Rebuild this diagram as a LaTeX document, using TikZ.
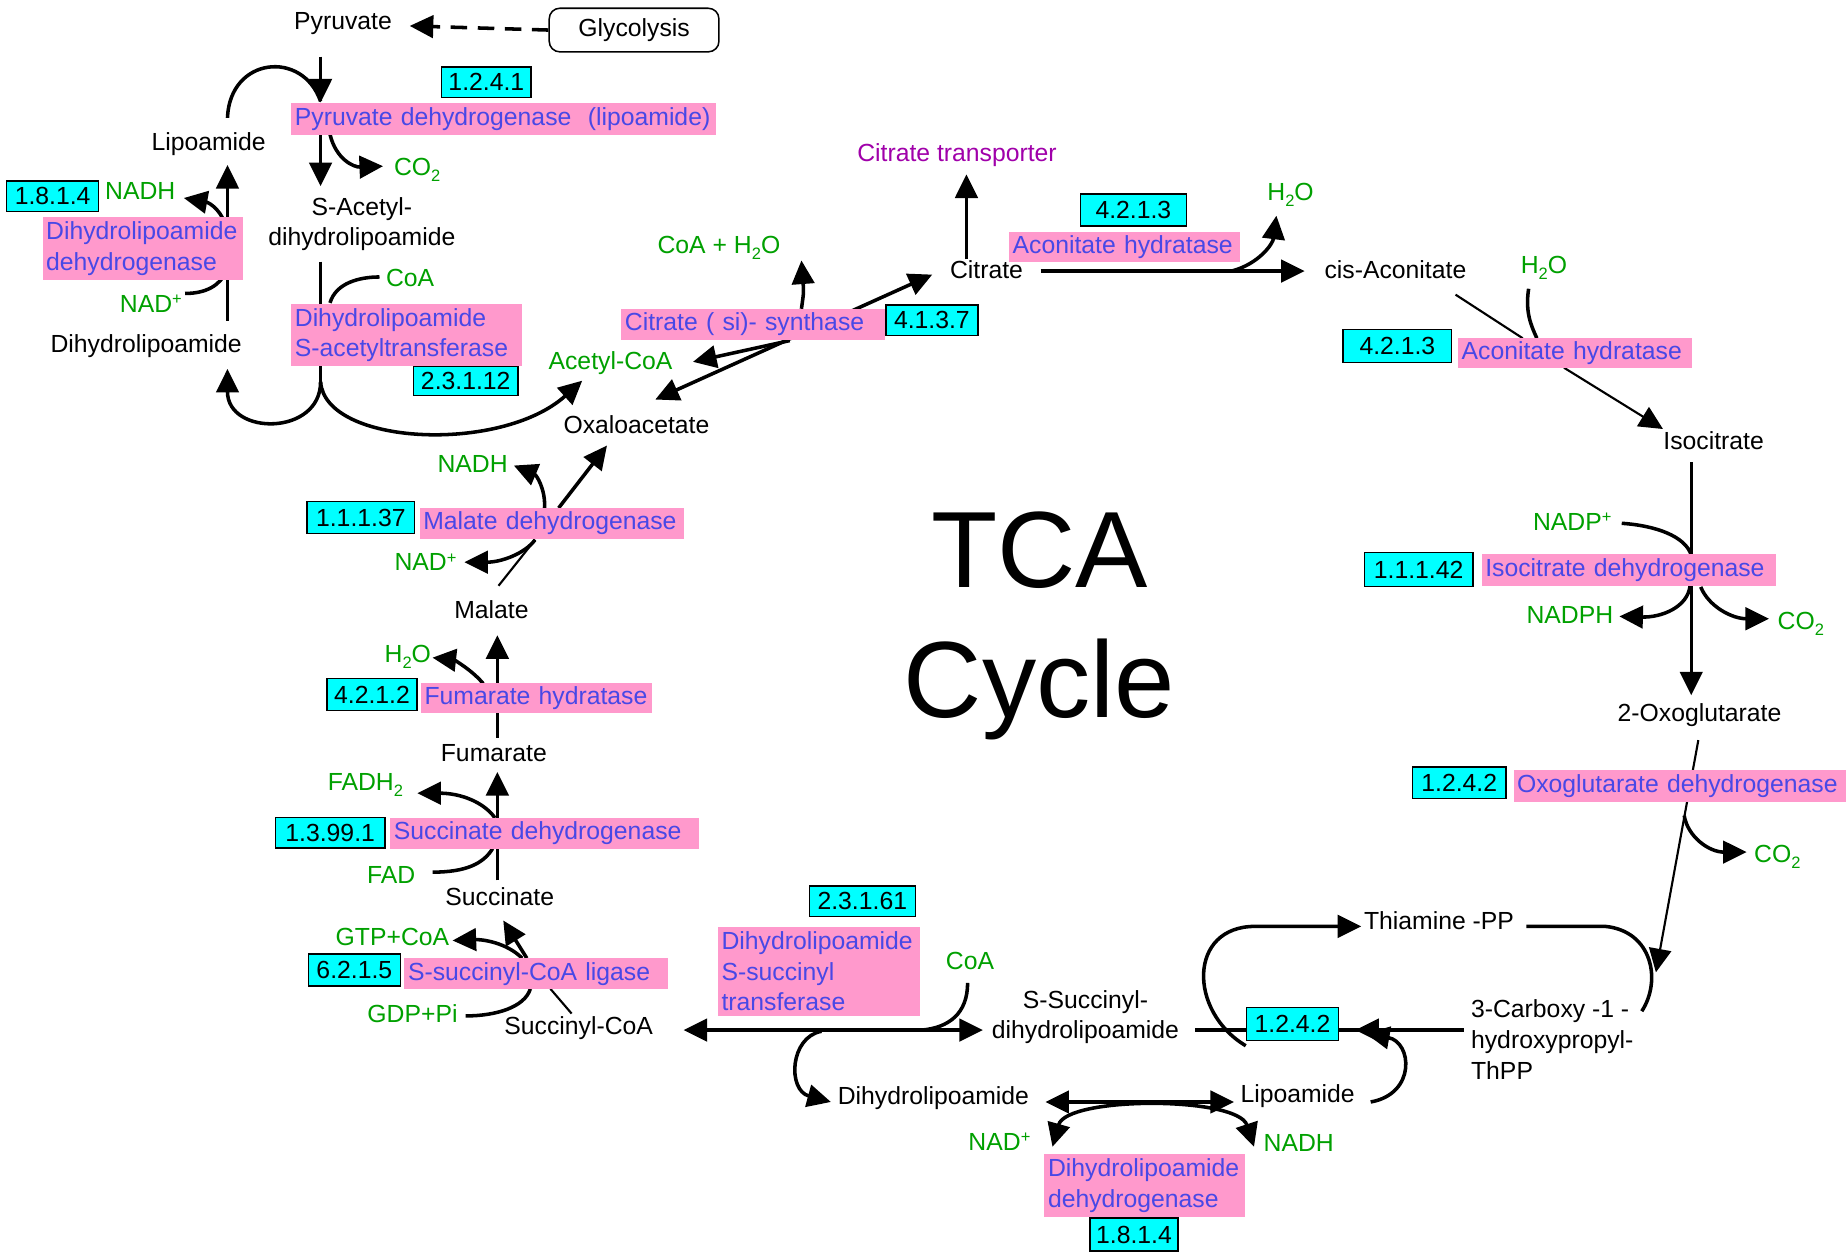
\documentclass[tikz,border=0pt]{standalone}
\usepackage{fontspec}
\setmainfont{Liberation Sans}
\usetikzlibrary{arrows.meta}
\definecolor{pinkc}{RGB}{255,153,204}
\definecolor{enzc}{RGB}{72,72,230}
\definecolor{cyanc}{RGB}{0,255,255}
\definecolor{grn}{RGB}{0,160,0}
\definecolor{purp}{RGB}{160,0,170}
\newcommand{\sbs}[1]{\raisebox{-0.45ex}{\fontsize{14}{14}\selectfont #1}}
\newcommand{\spp}{\raisebox{0.6ex}{\fontsize{14}{14}\selectfont +}}
\pgfdeclarelayer{back}\pgfdeclarelayer{bg}\pgfsetlayers{back,bg,main}
\begin{document}
\begin{tikzpicture}[x=1pt,y=-1pt,
  every node/.style={font=\fontsize{21}{26}\selectfont, inner sep=1pt},
  met/.style={text=black},
  cof/.style={text=grn},
  ec/.style={draw, fill=cyanc, line width=1.3pt, anchor=north west, inner sep=0pt},
  enz/.style={fill=pinkc, text=enzc, anchor=north west, inner xsep=3pt, inner ysep=0pt, align=left},
  tip/.style={-{Triangle[length=20pt,width=19pt]}},
  arr/.style={line width=3pt, tip},
  darr/.style={line width=3pt, {Triangle[length=20pt,width=19pt]}-{Triangle[length=20pt,width=19pt]}},
  ln/.style={line width=3pt},
  thn/.style={line width=1.8pt},
  thnarr/.style={line width=1.8pt, tip}]
\useasboundingbox (0,0) rectangle (1568,1062);
\begin{pgfonlayer}{back}\fill[white] (0,0) rectangle (1568,1062);\end{pgfonlayer}

% ---------- big title
\node[font=\fontsize{92}{110}\selectfont, align=center] (tca) at (882,531) {TCA\\Cycle};

% ---------- metabolites
\node[met] (pyr) at (291,20) {Pyruvate};
\node[draw, rounded corners=9pt, line width=1.3pt, minimum width=144pt, minimum height=37pt] (glyc) at (538,25.5) {Glycolysis};
\node[met] (lipo1) at (177,122) {Lipoamide};
\node[met, align=center] (sacetyl) at (307,190) {S-Acetyl-\\dihydrolipoamide};
\node[met] (dhl1) at (124,294) {Dihydrolipoamide};
\node[met] (oaa) at (540,360) {Oxaloacetate};
\node[met] (citrate) at (837,229) {Citrate};
\node[met] (cisacon) at (1184,229) {cis-Aconitate};
\node[met] (isocit) at (1454,374) {Isocitrate};
\node[met] (oxoglu) at (1442,607) {2-Oxoglutarate};
\node[met, align=left, anchor=west] (carboxy) at (1247,882) {3-Carboxy -1 -\\hydroxypropyl-\\ThPP};
\node[met] (thpp) at (1221,781) {Thiamine -PP};
\node[met, align=center] (ssucc) at (921,863) {S-Succinyl-\\dihydrolipoamide};
\node[met] (lipo2) at (1101,930) {Lipoamide};
\node[met] (dhl2) at (792,932) {Dihydrolipoamide};
\node[met] (succoa) at (491,872) {Succinyl-CoA};
\node[met] (succ) at (424,761) {Succinate};
\node[met] (fum) at (419,639) {Fumarate};
\node[met] (mal) at (417,517) {Malate};

% ---------- cofactors
\node[cof] (co2a) at (354,144) {CO\sbs{2}};
\node[cof] (nadh1) at (119,162) {NADH};
\node[cof] (nadp1) at (128,258) {NAD\spp};
\node[cof] (coa1) at (348,236) {CoA};
\node[cof] (acoa) at (518,308) {Acetyl-CoA};
\node[cof] (coah2o) at (610,210) {CoA + H\sbs{2}O};
\node[cof] (h2o1) at (1095,165) {H\sbs{2}O};
\node[cof] (h2o2) at (1310,227) {H\sbs{2}O};
\node[cof] (nadpp) at (1334,443) {NADP\spp};
\node[cof] (nadph) at (1332,522) {NADPH};
\node[cof] (co2b) at (1528,529) {CO\sbs{2}};
\node[cof] (co2c) at (1508,727) {CO\sbs{2}};
\node[cof] (nad2) at (848,969) {NAD\spp};
\node[cof] (nadh2) at (1102,970) {NADH};
\node[cof] (coa2) at (823,815) {CoA};
\node[cof] (gtp) at (333,795) {GTP+CoA};
\node[cof] (gdp) at (350,860) {GDP+Pi};
\node[cof] (fad) at (332,742) {FAD};
\node[cof] (fadh2) at (310,666) {FADH\sbs{2}};
\node[cof] (h2o3) at (346,557) {H\sbs{2}O};
\node[cof] (nad3) at (361,477) {NAD\spp};
\node[cof] (nadh3) at (401,394) {NADH};
\node[text=purp] (transp) at (812,132) {Citrate transporter};

% ---------- EC boxes
\node[ec, minimum width=76pt, minimum height=26pt] (ec1) at (374,56) {1.2.4.1};
\node[ec, minimum width=78pt, minimum height=26pt] (ec2) at (5,153) {1.8.1.4};
\node[ec, minimum width=89pt, minimum height=25pt] (ec3) at (350,310) {2.3.1.12};
\node[ec, minimum width=78pt, minimum height=26pt] (ec4) at (751,258) {4.1.3.7};
\node[ec, minimum width=90pt, minimum height=27pt] (ec5) at (916,164) {4.2.1.3};
\node[ec, minimum width=92pt, minimum height=28pt] (ec6) at (1139,279) {4.2.1.3};
\node[ec, minimum width=92pt, minimum height=29pt] (ec7) at (1157,468) {1.1.1.42};
\node[ec, minimum width=79pt, minimum height=27pt] (ec8) at (1198,650) {1.2.4.2};
\node[ec, minimum width=78pt, minimum height=28pt] (ec9) at (1057,854) {1.2.4.2};
\node[ec, minimum width=75pt, minimum height=28pt] (ec10) at (924,1033) {1.8.1.4};
\node[ec, minimum width=90pt, minimum height=26pt] (ec11) at (686,751) {2.3.1.61};
\node[ec, minimum width=78pt, minimum height=27pt] (ec12) at (261,809) {6.2.1.5};
\node[ec, minimum width=93pt, minimum height=26pt] (ec13) at (233,693) {1.3.99.1};
\node[ec, minimum width=76pt, minimum height=27pt] (ec14) at (277,575) {4.2.1.2};
\node[ec, minimum width=91pt, minimum height=27pt] (ec15) at (260,425) {1.1.1.37};

% ---------- enzyme names
\node[enz, text width=354pt, minimum height=27pt] (pk1) at (247,87) {Pyruvate dehydrogenase\ \ (lipoamide)};
\node[enz, text width=164pt, minimum height=53pt] (pk2) at (36,184) {Dihydrolipoamide\\dehydrogenase};
\node[enz, text width=190pt, minimum height=52pt] (pk3) at (247,258) {Dihydrolipoamide\\S-acetyltransferase};
\node[enz, text width=218pt, minimum height=26pt] (pk4) at (527,262) {Citrate ( si)- synthase};
\node[enz, text width=190pt, minimum height=25pt] (pk5) at (856,197) {Aconitate hydratase};
\node[enz, text width=192pt, minimum height=25pt] (pk6) at (1237,287) {Aconitate hydratase};
\node[enz, text width=244pt, minimum height=27pt] (pk7) at (1257,470) {Isocitrate dehydrogenase};
\node[enz, text width=276pt, minimum height=27pt] (pk8) at (1284,653) {Oxoglutarate dehydrogenase};
\node[enz, text width=164pt, minimum height=53pt] (pk9) at (886,979) {Dihydrolipoamide\\dehydrogenase};
\node[enz, text width=165pt, minimum height=76pt] (pk10) at (609,786) {Dihydrolipoamide\\S-succinyl\\transferase};
\node[enz, text width=218pt, minimum height=26pt] (pk11) at (343,813) {S-succinyl-CoA ligase};
\node[enz, text width=256pt, minimum height=26pt] (pk12) at (331,694) {Succinate dehydrogenase};
\node[enz, text width=190pt, minimum height=26pt] (pk13) at (357,579) {Fumarate hydratase};
\node[enz, text width=218pt, minimum height=26pt] (pk14) at (356,431) {Malate dehydrogenase};

% ---------- connectors
\begin{pgfonlayer}{bg}
% pyruvate
\draw[ln, dash pattern=on 14pt off 9pt, -{Triangle[length=20pt,width=19pt]}] (glyc.west) -- ([xshift=14pt,yshift=-2pt]pyr.east);
\draw[arr] (272,48) -- (pk1.north -| 272,0);
\draw[ln] (193,100) .. controls (195,48) and (257,42) .. (272,86);
\draw[arr] (pk1.south -| 272,0) -- (272,158);
\draw[arr] (280,114) .. controls (285,135) and (300,142) .. (325,141);
% left DLD
\draw[arr] (193,272) -- (193,140);
\draw[arr] (192,195) .. controls (190,180) and (178,172) .. (156,168);
\draw[ln] (157,249) .. controls (175,249) and (187,242) .. (192,230);
% S-acetyltransferase
\draw[ln] (272,222) -- (272,326);
\draw[arr] (272,324) .. controls (272,370) and (193,370) .. (193,313);
\draw[arr] (272,324) .. controls (276,378) and (425,385) .. (494,323);
\draw[ln] (280,257) .. controls (285,240) and (305,235) .. (322,235);
% citrate synthase
\draw[darr] (556,339) -- (791,233);
\draw[arr] (670,289) -- (588,307);
\draw[arr] (680,262) .. controls (682,248) .. (680,221);
\draw[arr] (citrate.north -| 820,0) -- (820,148);
% aconitase
\draw[arr] (883,230) -- (1107,230);
\draw[arr] (1045,230) .. controls (1068,224) and (1080,207) .. (1083,183);
\draw[thn] (1235,250) -- (1292,287);
\draw[ln] (1297,245) .. controls (1294,265) and (1299,276) .. (1304,287);
\draw[thnarr] (1327,312) -- (1411,364);
% isocitrate DH
\draw[arr] (1435,392) -- (1435,590);
\draw[ln] (1376,444) .. controls (1405,446) and (1430,455) .. (1435,471);
\draw[arr] (1434,497) .. controls (1432,515) and (1410,524) .. (1374,523);
\draw[arr] (1443,498) .. controls (1450,515) and (1470,525) .. (1501,525);
% oxoglutarate DH
\draw[thnarr] (1441,628) -- (1405,825);
\draw[arr] (1429,692) .. controls (1432,710) and (1450,723) .. (1482,723);
\draw[arr] ([yshift=-4pt]ec9.south west) .. controls (1008,858) and (1008,786) .. (1065,786) -- (1155,786);
\draw[ln] (1295,786) -- (1362,786) .. controls (1402,790) and (1410,832) .. (1393,858);
\draw[ln] (1242,874) -- (ec9.east |- 0,874);
\draw[arr] (1242,874) -- (1150,874);
\draw[ln] (1014,874) -- (ec9.west |- 0,874);
\draw[arr] (1163,935) .. controls (1202,928) and (1198,884) .. (1159,877);
% lower DLD
\draw[darr] (887,935) -- (1047,935);
\draw[darr] (893,973) .. controls (905,930) and (1050,930) .. (1064,973);
% succinyl transferase
\draw[darr] (580,874) -- (834,874);
\draw[ln] (821,834) .. controls (821,860) and (805,872) .. (782,874);
\draw[arr] (697,875) .. controls (670,880) and (668,925) .. (705,935);
% succinyl-CoA ligase
\draw[arr] (443,813) .. controls (430,800) and (410,797) .. (384,798);
\draw[arr] (447,813) -- (427,781);
\draw[ln] (395,862) .. controls (420,862) and (445,855) .. (450,839);
\draw[thn] (485,860) -- (467,839);
% succinate DH
\draw[ln] (418,720) .. controls (410,733) and (395,740) .. (367,740);
\draw[ln] (422,747) -- (422,720);
\draw[arr] (422,694) -- (422,655);
\draw[arr] (420,694) .. controls (410,680) and (390,673) .. (354,673);
% fumarate hydratase
\draw[arr] (422,626) -- (422,539);
\draw[arr] (410,580) .. controls (400,568) and (385,560) .. (367,558);
% malate DH
\draw[thn] (423,497) -- (454,458);
\draw[arr] (454,458) .. controls (445,470) and (425,477) .. (394,477);
\draw[arr] (462,431) .. controls (463,415) and (455,403) .. (436,395);
\draw[arr] (474,431) -- (515,378);
\end{pgfonlayer}
\end{tikzpicture}
\end{document}
